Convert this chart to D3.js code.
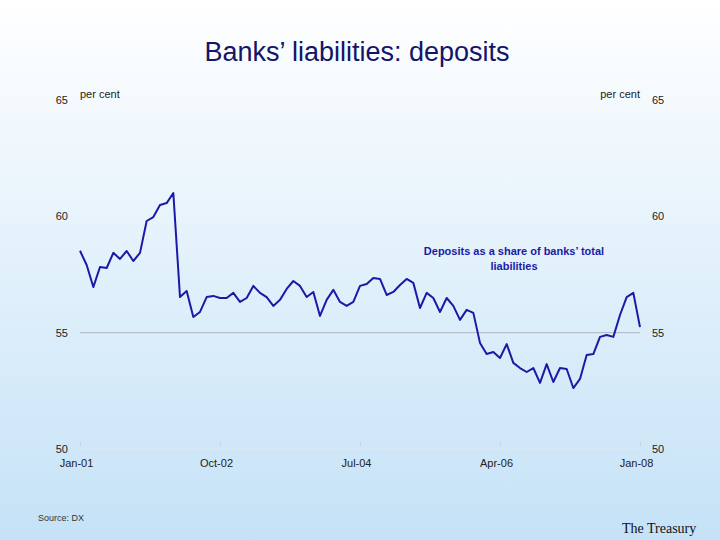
<!DOCTYPE html>
<html><head><meta charset="utf-8">
<script src="https://cdn.jsdelivr.net/npm/d3@7"></script>
<style>body{margin:0}svg{display:block}</style></head>
<body><svg id="c" width="720" height="540"></svg>
<script>
const startMonth = "2001-01";
const deposits = [58.52,57.91,56.96,57.82,57.78,58.43,58.17,58.51,58.08,58.43,59.80,59.97,60.49,60.57,61.00,56.53,56.79,55.67,55.89,56.53,56.58,56.49,56.49,56.71,56.32,56.49,57.01,56.71,56.53,56.15,56.41,56.88,57.22,57.01,56.53,56.75,55.72,56.41,56.84,56.32,56.15,56.32,57.01,57.09,57.35,
57.31,56.62,56.75,57.05,57.31,57.14,56.06,56.71,56.49,55.89,56.49,56.15,55.55,55.98,55.85,54.56,54.08,54.17,53.91,54.51,53.70,53.48,53.31,53.48,52.84,53.65,52.88,53.48,53.44,52.62,53.01,54.04,54.08,54.82,54.90,54.82,55.76,56.53,56.71,55.24];
const yTicks = [50,55,60,65];
const xTickIdx = [0,21,42,63,84];
const xTickLabels = ["Jan-01","Oct-02","Jul-04","Apr-06","Jan-08"];

const svg = d3.select("#c");
const defs = svg.append("defs");
const g = defs.append("linearGradient").attr("id","bg").attr("x1",0).attr("y1",0).attr("x2",0).attr("y2",1);
g.append("stop").attr("offset","0%").attr("stop-color","#ffffff");
g.append("stop").attr("offset","100%").attr("stop-color","#c5e2f7");
svg.append("rect").attr("width",720).attr("height",540).attr("fill","url(#bg)");

const x = d3.scaleLinear().domain([0,84]).range([80,640]);
const y = d3.scaleLinear().domain([50,65]).range([449,100]);

svg.append("text").attr("x",357).attr("y",61).attr("text-anchor","middle")
  .attr("font-family","Liberation Sans, Arial").attr("font-size",27).attr("fill","#14146a")
  .text("Banks’ liabilities: deposits");

svg.append("line").attr("x1",80).attr("x2",640).attr("y1",y(55)).attr("y2",y(55)).attr("stroke","#b0b8c0").attr("stroke-width",1);
svg.append("line").attr("x1",80).attr("x2",640).attr("y1",y(50)).attr("y2",y(50)).attr("stroke","#dfe8f0").attr("stroke-width",1);

const font = "Liberation Sans, Arial";
const lt = svg.append("g").attr("font-family",font).attr("font-size",11).attr("fill","#222");
yTicks.forEach(t=>{
  lt.append("text").attr("x",68).attr("y",y(t)+4).attr("text-anchor","end").text(t);
  lt.append("text").attr("x",652).attr("y",y(t)+4).text(t);
});
lt.append("text").attr("x",80).attr("y",98).text("per cent");
lt.append("text").attr("x",640).attr("y",98).attr("text-anchor","end").text("per cent");

const xa = svg.append("g").attr("transform","translate(0,449)")
  .call(d3.axisBottom(x).tickValues(xTickIdx).tickFormat((d,i)=>xTickLabels[i]).tickSize(4).tickSizeOuter(0));
xa.select(".domain").remove();
xa.selectAll("line").attr("stroke","#c8d4de").attr("transform","translate(0,-7)");
xa.selectAll("text").attr("font-family",font).attr("font-size",11).attr("fill","#222").attr("dy","1.0em").attr("dx","-4");

const line = d3.line().x((d,i)=>x(i)).y(d=>y(d));
svg.append("path").datum(deposits).attr("d",line).attr("fill","none")
  .attr("stroke","#1a1aa6").attr("stroke-width",2).attr("stroke-linejoin","round");

const ann = svg.append("text").attr("font-family",font).attr("font-size",11).attr("font-weight","bold").attr("fill","#1a1aa6").attr("text-anchor","middle");
ann.append("tspan").attr("x",514).attr("y",255).text("Deposits as a share of banks’ total");
ann.append("tspan").attr("x",514).attr("y",270).text("liabilities");

svg.append("text").attr("x",38).attr("y",521).attr("font-family",font).attr("font-size",9).attr("fill","#333").text("Source: DX");
svg.append("text").attr("x",622).attr("y",533).attr("font-family","Liberation Serif, Times New Roman").attr("font-size",14).attr("fill","#111").text("The Treasury");
</script></body></html>
